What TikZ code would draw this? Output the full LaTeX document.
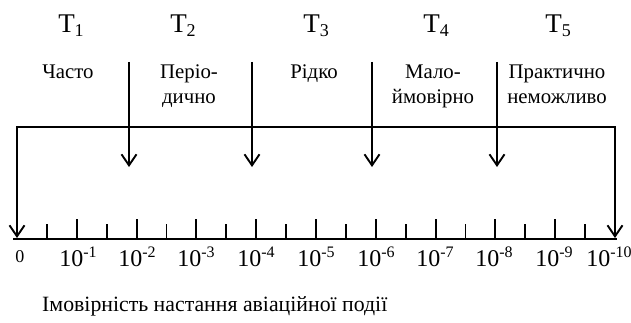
\documentclass[tikz,border=0pt]{standalone}
\usepackage{fontspec}
\setmainfont{Liberation Serif}
\usetikzlibrary{arrows.meta}
\newcommand{\tsub}[1]{\raisebox{-4pt}{\fontsize{18}{18}\selectfont #1}}
\newcommand{\tsup}[1]{\raisebox{9.5pt}{\fontsize{16}{16}\selectfont #1}}
\begin{document}
\begin{tikzpicture}[x=1pt,y=1pt,
  conn/.style={line width=1.9pt},
  arr/.style={conn,-{Straight Barb[length=11pt,width=15pt]}},
  axisline/.style={line width=2.3pt},
  shorttick/.style={line width=1.9pt},
  talltick/.style={line width=1.9pt},
  tlabel/.style={anchor=base,inner sep=0pt,font=\fontsize{27}{30}\selectfont},
  cat/.style={anchor=north,inner sep=0pt,align=center,font=\fontsize{20.8}{25}\selectfont},
  num/.style={anchor=base,inner sep=0pt,font=\fontsize{24}{26}\selectfont},
  zero/.style={anchor=base,inner sep=0pt,font=\fontsize{18}{20}\selectfont},
  caption/.style={anchor=base west,inner sep=0pt,font=\fontsize{21.8}{24}\selectfont}]
\useasboundingbox (0,0) rectangle (631,322);

% titles
\node[tlabel] (t1) at (71,289) {T\tsub{1}};
\node[tlabel] (t2) at (183,289) {T\tsub{2}};
\node[tlabel] (t3) at (316,289) {T\tsub{3}};
\node[tlabel] (t4) at (436,289) {T\tsub{4}};
\node[tlabel] (t5) at (558,289) {T\tsub{5}};

% categories
\node[cat] (c1) at (68,257) {Часто};
\node[cat] (c2) at (189,257) {Періо-\\дично};
\node[cat] (c3) at (314,257) {Рідко};
\node[cat] (c4) at (433,257) {Мало-\\ймовірно};
\node[cat] (c5) at (557,257) {Практично\\неможливо};

% axis
\coordinate (axL) at (13,83);
\coordinate (axR) at (617,83);
\draw[axisline] (axL) -- (axR);
\foreach \k in {1,3,...,19} {
  \coordinate (s\k) at ({17+29.9*\k},83);
  \draw[shorttick] (s\k) -- ++(0,15);
}
\foreach \k in {2,4,...,18} {
  \coordinate (g\k) at ({17+29.9*\k},83);
  \draw[talltick] (g\k) -- ++(0,20);
}

% bracket with end arrows
\coordinate (bM) at (316,195);
\coordinate (bL) at (17,195);
\coordinate (bR) at (615,195);
\coordinate (tipL) at (17,84);
\coordinate (tipR) at (615,84);
\draw[arr] (bM) -- (bL) -- (tipL);
\draw[arr] (bM) -- (bR) -- (tipR);

% boundary arrows
\foreach \i/\x in {1/129,2/252,3/372,4/497} {
  \coordinate (a\i top) at (\x,260);
  \coordinate (a\i tip) at (\x,155);
  \draw[arr] (a\i top) -- (a\i tip);
}

% scale labels
\node[zero] (n0) at (20,60) {0};
\node[num] (n1) at (78,55.5) {10\tsup{-1}};
\node[num] (n2) at (137,55.5) {10\tsup{-2}};
\node[num] (n3) at (196,55.5) {10\tsup{-3}};
\node[num] (n4) at (256,55.5) {10\tsup{-4}};
\node[num] (n5) at (316,55.5) {10\tsup{-5}};
\node[num] (n6) at (376,55.5) {10\tsup{-6}};
\node[num] (n7) at (435,55.5) {10\tsup{-7}};
\node[num] (n8) at (494,55.5) {10\tsup{-8}};
\node[num] (n9) at (554,55.5) {10\tsup{-9}};
\node[num] (n10) at (609,55.5) {10\tsup{-10}};

% caption
\node[caption] (cap) at (42,11) {Імовірність настання авіаційної події};
\end{tikzpicture}
\end{document}
